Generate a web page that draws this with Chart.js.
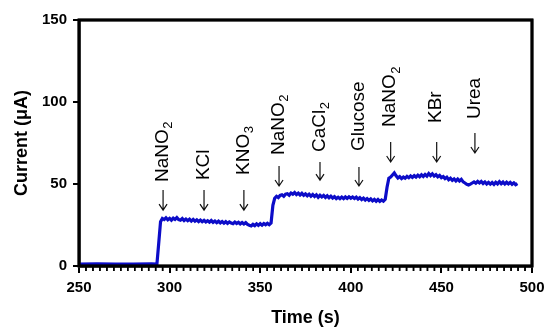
<!DOCTYPE html>
<html>
<head>
<meta charset="utf-8">
<script src="https://cdn.jsdelivr.net/npm/chart.js@4.4.1/dist/chart.umd.min.js"></script>
<style>
  body { margin: 0; background: #fff; }
</style>
</head>
<body>
<canvas id="myChart" width="544" height="328"></canvas>
<script>
// baseline before the first addition
const baseTime = [250, 260, 270, 280, 290];
const baseCurrent = [1.2, 1.3, 1.1, 1.2, 1.3];

// trace, one value per second from traceStart
const traceStart = 293;
const traceCurrent = [
  1.2, 14.0, 27.0, 29.0, 28.3, 29.4, 28.2, 29.1, 28.0, 29.2,
  28.4, 29.5, 28.3, 27.9, 28.9, 27.7, 28.6, 27.6, 28.5, 27.4,
  28.4, 27.3, 28.1, 27.1, 28.0, 27.0, 27.8, 26.8, 27.6, 26.7,
  27.7, 26.6, 27.4, 26.4, 27.3, 26.3, 27.1, 26.1, 27.0, 26.0,
  26.9, 26.2, 25.8, 26.8, 25.9, 26.7, 25.7, 26.5, 25.6, 26.4,
  25.3, 24.8, 24.4, 25.4, 24.6, 25.7, 24.8, 25.8, 24.9, 25.9,
  25.1, 26.0, 25.2, 26.2, 37.0, 41.3, 42.5, 41.7, 43.0, 43.4,
  42.5, 43.8, 44.1, 43.2, 44.5, 43.8, 44.8, 43.6, 44.4, 43.3,
  44.3, 43.1, 44.0, 42.8, 43.8, 42.6, 43.6, 42.4, 43.4, 41.9,
  43.1, 42.1, 43.0, 41.8, 42.8, 41.6, 42.6, 41.4, 42.3, 41.1,
  41.9, 41.0, 42.0, 41.1, 42.1, 41.2, 42.2, 41.3, 42.1, 41.2,
  42.0, 40.8, 41.7, 40.5, 41.4, 40.2, 41.1, 40.0, 40.9, 39.7,
  40.6, 39.5, 40.5, 39.4, 40.3, 39.5, 40.7, 48.0, 53.5, 54.2,
  55.5, 56.8, 55.0, 53.6, 54.5, 53.3, 54.3, 53.5, 54.6, 53.8,
  54.9, 54.0, 55.1, 54.2, 55.4, 54.4, 55.6, 54.6, 55.8, 54.8,
  56.4, 55.1, 56.2, 54.9, 55.7, 54.4, 55.2, 53.9, 54.5, 53.3,
  54.1, 52.6, 53.5, 52.2, 53.1, 51.9, 53.0, 51.8, 52.8, 51.3,
  50.6, 49.8, 49.4, 49.9, 50.6, 51.3, 50.5, 51.6, 50.6, 51.5,
  50.3, 51.2, 50.0, 51.0, 49.9, 50.9, 49.8, 51.1, 50.1, 51.4,
  50.2, 51.2, 50.0, 51.1, 50.1, 51.0, 49.8, 50.7, 49.6, 50.2
];

const xTicks = [250, 300, 350, 400, 450, 500];
const yTicks = [0, 50, 100, 150];

// additions: name, subscript, time of addition (s)
const addNames = ['NaNO', 'KCl', 'KNO', 'NaNO', 'CaCl', 'Glucose', 'NaNO', 'KBr', 'Urea'];
const addSubs = ['2', '', '3', '2', '2', '', '2', '', ''];
const addTimes = [296.4, 319, 341, 360.4, 383, 404.5, 422, 447.4, 468.5];
// where the label starts and the arrow runs, in µA
const labelBase = [51.2, 52.4, 55.5, 67.7, 69.5, 70.1, 84.8, 87.2, 89.6];
const arrowTop = [46.3, 46.3, 46.3, 61.0, 63.4, 60.4, 75.6, 75.6, 81.1];
const arrowTip = [34.1, 34.1, 34.1, 48.8, 52.4, 48.8, 63.4, 63.4, 68.9];

const FONT = "'Liberation Sans', Arial, Helvetica, sans-serif";

const points = [];
baseTime.forEach((t, i) => points.push({ x: t, y: baseCurrent[i] }));
traceCurrent.forEach((v, i) => points.push({ x: traceStart + i, y: v }));

function drawBox(chart) {
  const c = chart.ctx;
  const xs = chart.scales.x;
  const ys = chart.scales.y;
  c.save();
  c.strokeStyle = '#000000';
  c.lineWidth = 2.8;
  c.strokeRect(xs.left, ys.top, xs.right - xs.left, ys.bottom - ys.top);
  // minor ticks on the time axis
  c.lineWidth = 1.5;
  for (let i = 1; i < 65; i++) {
    if (i % 13 === 0) continue;
    const px = xs.getPixelForValue(250 + i * 50 / 13);
    c.beginPath();
    c.moveTo(px, ys.bottom);
    c.lineTo(px, ys.bottom + 5);
    c.stroke();
  }
  c.restore();
}

const notesPlugin = {
  id: 'additionNotes',
  afterDatasetsDraw(chart) {
    drawBox(chart);
  },
  afterDraw(chart) {
    const c = chart.ctx;
    const xs = chart.scales.x;
    const ys = chart.scales.y;
    drawBox(chart);

    // additions: arrows and rotated labels
    c.save();
    c.fillStyle = '#000000';
    c.strokeStyle = '#111111';
    c.lineWidth = 1.2;
    addTimes.forEach((t, i) => {
      const px = xs.getPixelForValue(t);
      const yTop = ys.getPixelForValue(arrowTop[i]);
      const yTip = ys.getPixelForValue(arrowTip[i]);
      c.beginPath();
      c.moveTo(px, yTop);
      c.lineTo(px, yTip);
      c.moveTo(px - 4, yTip - 6);
      c.lineTo(px, yTip);
      c.lineTo(px + 4, yTip - 6);
      c.stroke();
    });
    addTimes.forEach((t, i) => {
      const px = xs.getPixelForValue(t);
      const yb = ys.getPixelForValue(labelBase[i]);
      c.save();
      c.translate(px, yb);
      c.rotate(-Math.PI / 2);
      c.textAlign = 'left';
      c.textBaseline = 'alphabetic';
      c.font = '19px ' + FONT;
      c.fillText(addNames[i], 0, 4.8);
      if (addSubs[i]) {
        const w = c.measureText(addNames[i]).width;
        c.font = '13px ' + FONT;
        c.fillText(addSubs[i], w + 0.5, 9);
      }
      c.restore();
    });
    c.restore();
  }
};

const ctx = document.getElementById('myChart');

new Chart(ctx, {
  type: 'line',
  data: {
    datasets: [{
      data: points,
      borderColor: '#0c0cc8',
      borderWidth: 3.2,
      pointRadius: 0,
      tension: 0,
      fill: false
    }]
  },
  options: {
    responsive: false,
    animation: false,
    layout: { padding: { top: 20, right: 12, left: 0, bottom: 0 } },
    plugins: { legend: { display: false }, tooltip: { enabled: false } },
    scales: {
      x: {
        type: 'linear',
        min: 250,
        max: 500,
        afterBuildTicks: s => { s.ticks = xTicks.map(v => ({ value: v })); },
        afterFit: s => { s.height = 62; s.paddingLeft = 0; s.paddingRight = 0; },
        ticks: {
          color: '#000',
          padding: 6,
          maxRotation: 0,
          font: { family: FONT, size: 15, weight: 'bold' }
        },
        grid: { drawOnChartArea: false, drawTicks: true, tickLength: 7, color: '#000', lineWidth: 2 },
        border: { display: true, color: '#000', width: 2.5 },
        title: {
          display: true,
          text: 'Time (s)',
          color: '#000',
          padding: { top: 0, bottom: -1 },
          font: { family: FONT, size: 18, weight: 'bold' }
        }
      },
      y: {
        min: 0,
        max: 150,
        afterBuildTicks: s => { s.ticks = yTicks.map(v => ({ value: v })); },
        afterFit: s => { s.width = 79; s.paddingTop = 0; s.paddingBottom = 0; },
        ticks: {
          color: '#000',
          padding: 6,
          font: { family: FONT, size: 15, weight: 'bold' }
        },
        grid: { drawOnChartArea: false, drawTicks: true, tickLength: 6, color: '#000', lineWidth: 2 },
        border: { display: true, color: '#000', width: 2.5 },
        title: {
          display: true,
          text: 'Current (μA)',
          color: '#000',
          padding: { top: 11, bottom: 0 },
          font: { family: FONT, size: 18, weight: 'bold' }
        }
      }
    }
  },
  plugins: [notesPlugin]
});
</script>
</body>
</html>
